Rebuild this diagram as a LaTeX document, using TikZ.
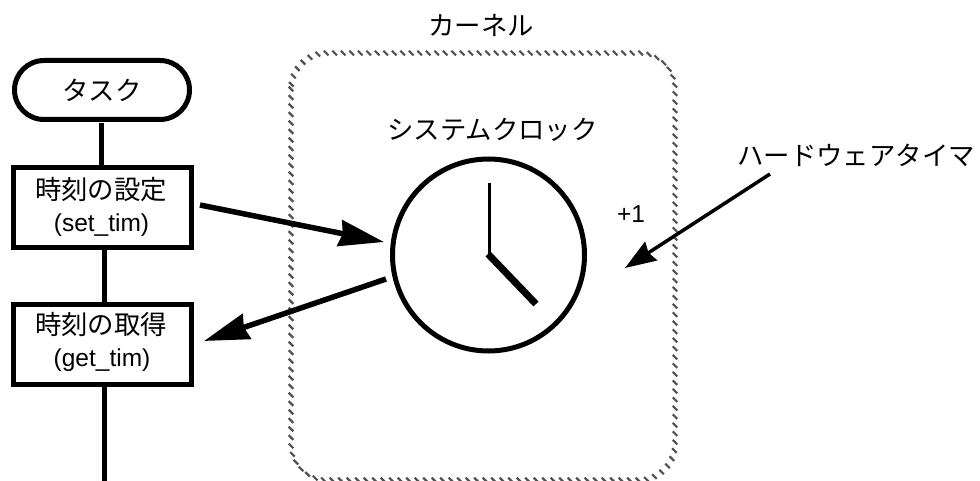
\documentclass[tikz,border=0pt]{standalone}
\usepackage{fontspec}
\setmainfont{Liberation Sans}
\newfontfamily\cjk{Noto Sans CJK JP}
\usetikzlibrary{arrows.meta,shapes.misc,decorations.markings}
\tikzset{
 every node/.style={inner sep=0pt,outer sep=0pt},
 flow/.style={draw=black,line width=5pt},
 procbox/.style={flow,fill=white,minimum width=178pt,minimum height=80pt},
 startbox/.style={flow,fill=white,rounded rectangle,minimum width=175pt,minimum height=59pt},
 bigarrow/.style={line width=5.5pt,-{Stealth[length=45pt,width=26pt,inset=3pt]}},
 smallarrow/.style={line width=3.5pt,-{Stealth[length=31pt,width=22pt,inset=3pt]}},
 jp/.style={font=\cjk\fontsize{26.4}{30}\selectfont},
 lat/.style={font=\fontsize{24.5}{28}\selectfont},
 hatchframe/.style={decoration={markings,mark=between positions 0 and 1 step 8.5pt with {\pgftransformresetnontranslations\draw[line width=2.2pt,draw=black!68] (-2.3,-2.3) -- (2.3,2.3);}},postaction={decorate}},
}
\begin{document}
\begin{tikzpicture}[x=1pt,y=-1pt]
\useasboundingbox (0,0) rectangle (980,481);
\fill[white] (0,0) rectangle (980,481);
% kernel frame
\path[hatchframe,rounded corners=36pt] (291,53) rectangle (675,480);
% flow
\coordinate (tail) at (104,481);
\node[startbox,jp] (task) at (102,90) {タスク};
\node[procbox] (set) at (102.5,207.5) {};
\node[jp] (settime) at (101,190) {時刻の設定};
\node[lat] (setcall) at (101.5,225) {(set\_tim)};
\node[procbox] (get) at (102.5,344) {};
\node[jp] (gettime) at (101,324) {時刻の取得};
\node[lat] (getcall) at (102,360) {(get\_tim)};
\draw[flow] ([shift={(-1,4)}]task.south) -- ([xshift=-1.5pt]set.north);
\draw[flow] ([xshift=1.5pt]set.south) -- ([xshift=1.5pt]get.north);
\draw[flow] ([xshift=1.5pt]get.south) -- (tail);
% clock
\node[draw=black,line width=5pt,circle,minimum size=192pt,fill=white] (clock) at (488.5,255) {};
\coordinate (hub) at (488,254);
\coordinate (mh) at (489,183);
\coordinate (hh) at (536,304);
\draw[line width=3pt] (489,256) -- (mh);
\draw[line width=7pt] (hub) -- (hh);
% labels
\node[jp] (kernel) at (481,25) {カーネル};
\node[jp] (sys) at (492.5,130) {システムクロック};
\node[jp] (hw) at (856,155) {ハードウェアタイマ};
\node[lat] (plus) at (631,214) {+1};
% arrows
\coordinate (a1s) at (200,205);
\coordinate (a1e) at (384,242);
\coordinate (a2s) at (386,279);
\coordinate (a2e) at (204,341);
\coordinate (a3s) at (770,174);
\coordinate (a3e) at (625,268);
\draw[bigarrow] (a1s) -- (a1e);
\draw[bigarrow] (a2s) -- (a2e);
\draw[smallarrow] (a3s) -- (a3e);
\end{tikzpicture}
\end{document}
